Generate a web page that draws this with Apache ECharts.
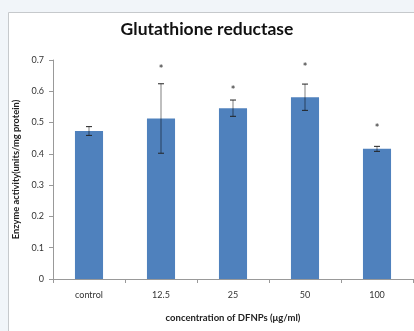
<!DOCTYPE html>
<html><head><meta charset="utf-8">
<script src="https://cdn.jsdelivr.net/npm/echarts@6/dist/echarts.min.js"></script>
<style>html,body{margin:0;padding:0;background:#f1f5f9}#c{width:414px;height:331px}</style>
</head><body><div id="c"></div>
<script>
var categories = ['control', '12.5', '25', '50', '100'];
var means = [0.473, 0.513, 0.546, 0.581, 0.416];
var errors = [0.014, 0.111, 0.026, 0.042, 0.008];
var starValues = [null, 0.679, 0.613, 0.687, 0.491];
var yTicks = [0, 0.1, 0.2, 0.3, 0.4, 0.5, 0.6, 0.7];

var chart = echarts.init(document.getElementById('c'), null, {renderer: 'canvas'});
var font = 'Lato, "Open Sans", sans-serif';
var errData = categories.map(function (c, i) { return [i, means[i] - errors[i], means[i] + errors[i]]; });
var starData = categories.map(function (c, i) { return starValues[i] == null ? null : [i, starValues[i]]; }).filter(Boolean);

chart.setOption({
  backgroundColor: '#f1f5f9',
  animation: false,
  graphic: [{type: 'rect', left: 8, top: 12, z: -10, shape: {width: 420, height: 330},
    style: {fill: '#ffffff', stroke: '#c6c9cc', lineWidth: 1}}],
  title: {text: 'Glutathione reductase', left: 'center', top: 15,
    textStyle: {fontFamily: font, fontWeight: 'bold', fontSize: 17.5, color: '#111'}},
  grid: {left: 53, right: 1, top: 60, bottom: 52},
  xAxis: {type: 'category', data: categories,
    name: 'concentration of DFNPs (\u03bcg/ml)', nameLocation: 'middle', nameGap: 34,
    nameTextStyle: {fontFamily: font, fontWeight: 'bold', fontSize: 9.5, color: '#222'},
    axisLine: {lineStyle: {color: '#999'}},
    axisTick: {show: true, length: 4, lineStyle: {color: '#999'}},
    axisLabel: {fontFamily: font, fontSize: 9, color: '#333', margin: 12}},
  yAxis: {type: 'value', min: 0, max: 0.7, interval: 0.1,
    name: 'Enzyme activity(units/mg protein)', nameLocation: 'middle', nameGap: 31,
    nameTextStyle: {fontFamily: font, fontWeight: 'bold', fontSize: 9.3, color: '#222'},
    axisLine: {show: true, lineStyle: {color: '#999'}},
    axisTick: {show: true, length: 4, lineStyle: {color: '#999'}},
    splitLine: {show: false},
    axisLabel: {fontFamily: font, fontSize: 9, color: '#333', margin: 9,
      formatter: function (v) { return String(Math.round(v * 10) / 10); }}},
  series: [
    {type: 'bar', data: means, barWidth: '39%', itemStyle: {color: '#4f81bd'}},
    {type: 'custom', data: errData, z: 5,
      renderItem: function (params, api) {
        var x = api.value(0);
        var lo = api.coord([x, api.value(1)]);
        var hi = api.coord([x, api.value(2)]);
        var w = 3;
        return {type: 'group', children: [
          {type: 'line', shape: {x1: hi[0], y1: hi[1], x2: lo[0], y2: lo[1]}, style: {stroke: 'rgba(0,0,0,0.5)', lineWidth: 1}},
          {type: 'line', shape: {x1: hi[0] - w, y1: hi[1], x2: hi[0] + w, y2: hi[1]}, style: {stroke: '#222', lineWidth: 1}},
          {type: 'line', shape: {x1: lo[0] - w, y1: lo[1], x2: lo[0] + w, y2: lo[1]}, style: {stroke: '#222', lineWidth: 1}}
        ]};
      }},
    {type: 'scatter', data: starData, symbolSize: 0, z: 6,
      label: {show: true, position: 'inside', formatter: '*', fontFamily: font, fontWeight: 'bold', fontSize: 11, color: '#222', offset: [0, 3]}}
  ]
});
</script></body></html>
